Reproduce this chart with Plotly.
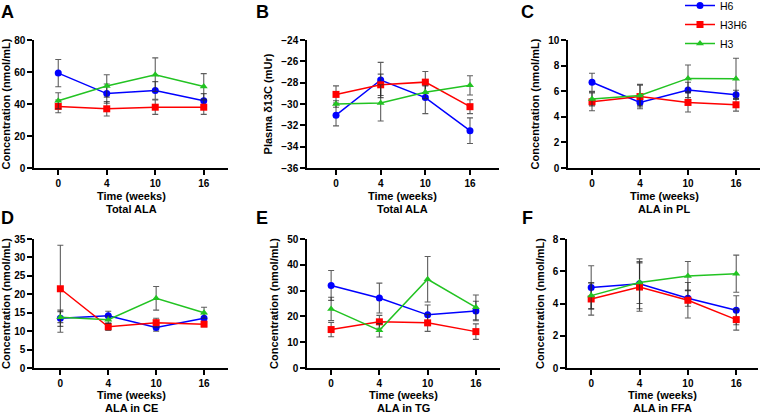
import plotly.graph_objects as go

W, H = 763, 413
weeks = ["0", "4", "10", "16"]
series_names = ["H6", "H3H6", "H3"]
colors = {"H6": "#0000FF", "H3H6": "#FF0000", "H3": "#22C322"}
symbols = {"H6": "circle", "H3H6": "square", "H3": "triangle-up"}

A_H6 = [59.3, 46.5, 48.5, 42.0]
A_H6_err = [8.5, 6.0, 5.5, 4.5]
A_H3H6 = [38.5, 37.0, 38.0, 38.0]
A_H3H6_err = [4.0, 4.5, 4.5, 4.5]
A_H3 = [42.0, 51.3, 58.3, 51.0]
A_H3_err = [5.0, 7.0, 10.5, 8.0]

B_H6 = [-31.05, -27.75, -29.4, -32.5]
B_H6_err = [1.0, 1.65, 1.5, 1.2]
B_H3H6 = [-29.1, -28.2, -27.95, -30.25]
B_H3H6_err = [0.8, 1.0, 1.0, 0.65]
B_H3 = [-30.0, -29.9, -28.9, -28.25]
B_H3_err = [0.3, 1.7, 0.6, 0.9]

C_H6 = [6.7, 5.12, 6.1, 5.72]
C_H6_err = [0.7, 0.35, 0.6, 0.35]
C_H3H6 = [5.17, 5.58, 5.12, 4.94]
C_H3H6_err = [0.7, 0.95, 0.75, 0.5]
C_H3 = [5.4, 5.66, 7.0, 6.98]
C_H3_err = [0.55, 0.8, 1.05, 1.6]

D_H6 = [13.5, 14.2, 11.0, 13.5]
D_H6_err = [2.2, 1.2, 1.0, 1.2]
D_H3H6 = [21.5, 11.2, 12.3, 11.9]
D_H3H6_err = [11.8, 1.0, 1.2, 0.7]
D_H3 = [13.8, 13.1, 18.9, 15.0]
D_H3_err = [1.5, 1.0, 3.2, 1.5]

E_H6 = [32.0, 27.1, 20.6, 22.1]
E_H6_err = [5.8, 5.8, 3.8, 3.8]
E_H3H6 = [14.9, 17.9, 17.5, 14.1]
E_H3H6_err = [2.8, 2.5, 3.3, 3.0]
E_H3 = [22.9, 14.6, 34.4, 23.5]
E_H3_err = [4.5, 2.6, 8.8, 4.8]

F_H6 = [4.99, 5.22, 4.33, 3.58]
F_H6_err = [1.35, 1.55, 0.5, 0.9]
F_H3H6 = [4.28, 5.02, 4.2, 3.0]
F_H3H6_err = [1.0, 1.5, 1.1, 0.65]
F_H3 = [4.49, 5.3, 5.7, 5.85]
F_H3_err = [0.8, 1.3, 0.9, 1.15]

panels = [
    ("A", {"H6": (A_H6, A_H6_err), "H3H6": (A_H3H6, A_H3H6_err), "H3": (A_H3, A_H3_err)},
     [0, 80], 20, "Concentration (nmol/mL)", "Total ALA"),
    ("B", {"H6": (B_H6, B_H6_err), "H3H6": (B_H3H6, B_H3H6_err), "H3": (B_H3, B_H3_err)},
     [-36, -24], 2, "Plasma δ13C (mUr)", "Total ALA"),
    ("C", {"H6": (C_H6, C_H6_err), "H3H6": (C_H3H6, C_H3H6_err), "H3": (C_H3, C_H3_err)},
     [0, 10], 2, "Concentration (nmol/mL)", "ALA in PL"),
    ("D", {"H6": (D_H6, D_H6_err), "H3H6": (D_H3H6, D_H3H6_err), "H3": (D_H3, D_H3_err)},
     [0, 35], 5, "Concentration (nmol/mL)", "ALA in CE"),
    ("E", {"H6": (E_H6, E_H6_err), "H3H6": (E_H3H6, E_H3H6_err), "H3": (E_H3, E_H3_err)},
     [0, 50], 10, "Concentration (nmol/mL)", "ALA in TG"),
    ("F", {"H6": (F_H6, F_H6_err), "H3H6": (F_H3H6, F_H3H6_err), "H3": (F_H3, F_H3_err)},
     [0, 8], 2, "Concentration (nmol/mL)", "ALA in FFA"),
]

xdoms_px = [(34, 228), (307, 499), (568, 760), (34, 228), (307, 500), (567, 758)]
xranges = [[-0.5, 3.5], [-0.65, 3.65], [-0.5, 3.5], [-0.55, 3.5], [-0.5, 3.5], [-0.5, 3.45]]
ydoms_px = [(40, 168)] * 3 + [(239, 368)] * 3
letter_pos = [(7, 12), (262, 12), (527, 12), (7, 218), (262, 218), (527, 218)]
title_y = [196, 196, 196, 395, 395, 395]
sub_y = [209, 209, 209, 408, 408, 408]

FONT = "Liberation Sans, Arial, sans-serif"
fig = go.Figure()
layout = dict(
    width=W, height=H,
    margin=dict(l=0, r=0, t=0, b=0, autoexpand=False),
    plot_bgcolor="white", paper_bgcolor="white",
    font=dict(family=FONT, color="black"),
    showlegend=True,
    legend=dict(x=1 - 10 / W, y=1 + 9 / H, xanchor="right", yanchor="top",
                font=dict(size=10.5, family=FONT), bgcolor="rgba(0,0,0,0)",
                tracegroupgap=0, itemwidth=30),
)
annotations = []

for i, (letter, data, yr, dt, ytitle, sub) in enumerate(panels):
    n = i + 1
    xa = "x" if n == 1 else f"x{n}"
    ya = "y" if n == 1 else f"y{n}"
    for name in series_names:
        vals, errs = data[name]
        fig.add_trace(go.Scatter(
            x=weeks, y=vals, mode="lines+markers", name=name,
            legendgroup=name, showlegend=(i == 2),
            line=dict(color=colors[name], width=1.5),
            marker=dict(color=colors[name], symbol=symbols[name], size=7),
            error_y=dict(type="data", array=errs, visible=True,
                         color="rgba(40,40,40,0.75)", thickness=1.1, width=3),
            xaxis=xa, yaxis=ya,
        ))
    x0, x1 = xdoms_px[i]
    yt, yb = ydoms_px[i]
    layout["xaxis" if n == 1 else f"xaxis{n}"] = dict(
        domain=[x0 / W, x1 / W], anchor=ya, type="category",
        categoryorder="array", categoryarray=weeks,
        range=xranges[i], showline=True, linecolor="black", linewidth=1.5,
        ticks="outside", ticklen=5, tickwidth=1.5, tickcolor="black",
        showgrid=False, zeroline=False,
        tickfont=dict(size=10, family=FONT, weight="bold"),
    )
    layout["yaxis" if n == 1 else f"yaxis{n}"] = dict(
        domain=[1 - yb / H, 1 - yt / H], anchor=xa,
        range=yr, dtick=dt, tick0=yr[0], showline=True, linecolor="black",
        linewidth=1.5, ticks="outside", ticklen=5, tickwidth=1.5,
        tickcolor="black", showgrid=False, zeroline=False,
        tickfont=dict(size=10, family=FONT, weight="bold"),
        title=dict(text=ytitle, font=dict(size=11, family=FONT, weight="bold"),
                   standoff=6),
    )
    cx = (x0 + x1) / 2 / W
    annotations.append(dict(text="Time (weeks)", x=cx, y=1 - title_y[i] / H,
                            xref="paper", yref="paper", showarrow=False,
                            xanchor="center", yanchor="middle",
                            font=dict(size=11, family=FONT, weight="bold")))
    annotations.append(dict(text=sub, x=cx, y=1 - sub_y[i] / H,
                            xref="paper", yref="paper", showarrow=False,
                            xanchor="center", yanchor="middle",
                            font=dict(size=11, family=FONT, weight="bold")))
    lx, ly = letter_pos[i]
    annotations.append(dict(text=letter, x=lx / W, y=1 - ly / H,
                            xref="paper", yref="paper", showarrow=False,
                            xanchor="center", yanchor="middle",
                            font=dict(size=18, family=FONT, weight="bold")))

layout["annotations"] = annotations
fig.update_layout(**layout)
fig.write_html("out.html", config={"displayModeBar": False},
               post_script="document.body.style.margin='0';document.body.style.padding='0';")
